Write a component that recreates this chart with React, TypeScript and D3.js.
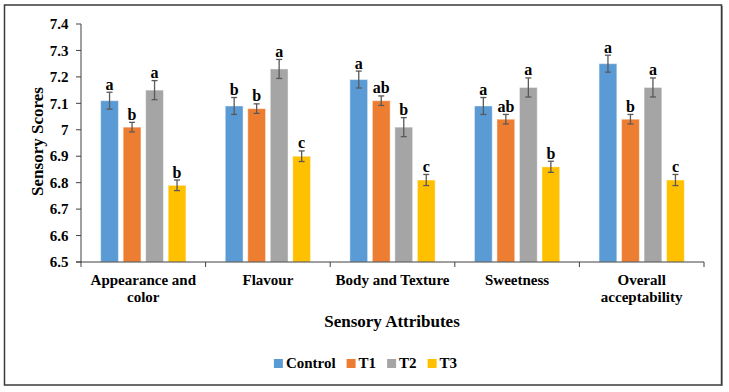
import React from 'react';
import * as d3 from 'd3';

const categories = ['Appearance and color', 'Flavour', 'Body and Texture', 'Sweetness', 'Overall acceptability'];
const seriesNames = ['Control', 'T1', 'T2', 'T3'];
const seriesColors = ['#5B9BD5', '#ED7D31', '#A5A5A5', '#FFC000'];

// values per series, one per category
const controlValues = [7.11, 7.09, 7.19, 7.09, 7.25];
const t1Values = [7.01, 7.08, 7.11, 7.04, 7.04];
const t2Values = [7.15, 7.23, 7.01, 7.16, 7.16];
const t3Values = [6.79, 6.9, 6.81, 6.86, 6.81];

const controlErr = [0.032, 0.032, 0.032, 0.032, 0.032];
const t1Err = [0.018, 0.018, 0.018, 0.018, 0.018];
const t2Err = [0.036, 0.036, 0.036, 0.036, 0.036];
const t3Err = [0.02, 0.02, 0.021, 0.021, 0.021];

const controlLetters = ['a', 'b', 'a', 'a', 'a'];
const t1Letters = ['b', 'b', 'ab', 'ab', 'b'];
const t2Letters = ['a', 'a', 'b', 'a', 'a'];
const t3Letters = ['b', 'c', 'c', 'b', 'c'];

const yTicks = [6.5, 6.6, 6.7, 6.8, 6.9, 7.0, 7.1, 7.2, 7.3, 7.4];

const allValues = [controlValues, t1Values, t2Values, t3Values];
const allErrs = [controlErr, t1Err, t2Err, t3Err];
const allLetters = [controlLetters, t1Letters, t2Letters, t3Letters];

const FONT = '"Liberation Serif", "Times New Roman", serif';
const txt = { fontFamily: FONT, fontWeight: 'bold' as const };
const MARGIN = { top: 24, right: 25, bottom: 130, left: 81 };

let ctx: CanvasRenderingContext2D | null = null;
const measure = (text: string, size: number) => {
  if (!ctx) ctx = document.createElement('canvas').getContext('2d');
  if (!ctx) return text.length * size * 0.5;
  ctx.font = `bold ${size}px ${FONT}`;
  return ctx.measureText(text).width;
};

const wrap = (text: string, maxW: number, size: number) => {
  const words = text.split(' ');
  const lines: string[] = [];
  let cur = '';
  words.forEach((w) => {
    const next = cur ? cur + ' ' + w : w;
    if (cur && measure(next, size) > maxW) {
      lines.push(cur);
      cur = w;
    } else cur = next;
  });
  if (cur) lines.push(cur);
  return lines;
};

const App = () => {
  const width = 729;
  const height = 392;
  const plotRight = 704;
  const plotBottom = 262;

  const xScale = d3.scaleBand().domain(categories).range([MARGIN.left, plotRight]).padding(0);
  const groupWidth = 90;
  const x1 = d3.scaleBand().domain(seriesNames).range([0, groupWidth]).paddingInner(0.21).paddingOuter(0.105);
  const yScale = d3.scaleLinear().domain([6.5, 7.4]).range([plotBottom, MARGIN.top]);

  const bars = categories.map((cat, ci) => {
    const gx = (xScale(cat) ?? 0) + (xScale.bandwidth() - groupWidth) / 2;
    return (
      <g key={cat}>
        {seriesNames.map((s, si) => {
          const v = allValues[si][ci];
          const e = allErrs[si][ci];
          const bx = gx + (x1(s) ?? 0);
          const cx = bx + x1.bandwidth() / 2;
          const yTop = yScale(v + e);
          const yBot = yScale(v - e);
          return (
            <g key={s}>
              <rect x={bx} y={yScale(v)} width={x1.bandwidth()} height={plotBottom - yScale(v)} fill={seriesColors[si]} stroke="#ffffff" strokeOpacity={0.45} strokeWidth={1} />
              <line x1={cx} x2={cx} y1={yTop} y2={yBot} stroke="#595959" strokeWidth={1.3} />
              <line x1={cx - 3} x2={cx + 3} y1={yTop} y2={yTop} stroke="#595959" strokeWidth={1.3} />
              <line x1={cx - 3} x2={cx + 3} y1={yBot} y2={yBot} stroke="#595959" strokeWidth={1.3} />
              <text x={cx} y={yTop - 2.5} textAnchor="middle" style={txt} fontSize={16} fill="#000">
                {allLetters[si][ci]}
              </text>
            </g>
          );
        })}
      </g>
    );
  });

  const yAxis = (
    <g>
      <line x1={MARGIN.left} x2={MARGIN.left} y1={MARGIN.top} y2={plotBottom} stroke="#404040" strokeWidth={1} />
      {yTicks.map((t) => (
        <g key={t}>
          <line x1={MARGIN.left - 5} x2={MARGIN.left} y1={yScale(t)} y2={yScale(t)} stroke="#404040" strokeWidth={1} />
          <text x={MARGIN.left - 12.5} y={yScale(t)} dy="0.35em" textAnchor="end" style={txt} fontSize={15} fill="#000">
            {t === 7 ? '7' : t.toFixed(1)}
          </text>
        </g>
      ))}
    </g>
  );

  const boundaries = [...categories.map((c) => xScale(c) ?? 0), plotRight];
  const xAxis = (
    <g>
      <line x1={MARGIN.left - 5} x2={plotRight} y1={plotBottom} y2={plotBottom} stroke="#404040" strokeWidth={1} />
      {boundaries.map((bx, i) => (
        <line key={i} x1={bx} x2={bx} y1={plotBottom} y2={plotBottom + 5} stroke="#404040" strokeWidth={1} />
      ))}
      {categories.map((c) => {
        const lines = wrap(c, 120, 15);
        const cx = (xScale(c) ?? 0) + xScale.bandwidth() / 2;
        return (
          <text key={c} x={cx} y={plotBottom + 23} textAnchor="middle" style={txt} fontSize={15} fill="#000">
            {lines.map((l, i) => (
              <tspan key={i} x={cx} dy={i === 0 ? 0 : 16.5}>{l}</tspan>
            ))}
          </text>
        );
      })}
    </g>
  );

  // legend laid out left to right, centred under the plot
  const legendSize = 15;
  const items = seriesNames.map((s) => measure(s, legendSize));
  const itemWidths = items.map((w) => 9 + 3 + w);
  const legendTotal = d3.sum(itemWidths) + 11 * (items.length - 1);
  let lx = 365.5 - legendTotal / 2;
  const legend = seriesNames.map((s, i) => {
    const x0 = lx;
    lx += itemWidths[i] + 11;
    return (
      <g key={s}>
        <rect x={x0} y={359} width={9} height={9} fill={seriesColors[i]} />
        <text x={x0 + 12} y={368} style={txt} fontSize={legendSize} fill="#000">
          {s}
        </text>
      </g>
    );
  });

  return (
    <svg width={width} height={height} style={{ position: 'absolute', left: 0, top: 0 }}>
      <rect x={0} y={0} width={width} height={height} fill="#fff" />
      <rect x={4.5} y={5} width={717} height={380} fill="#fff" stroke="#3a3a3a" strokeWidth={1.5} />
      <line x1={722.5} x2={722.5} y1={6} y2={386} stroke="#8a8a8a" strokeWidth={1} />
      {bars}
      {yAxis}
      {xAxis}
      <text transform="translate(37, 141.5) rotate(-90)" textAnchor="middle" dy="0.35em" style={txt} fontSize={17} fill="#000">
        Sensory Scores
      </text>
      <text x={392} y={327} textAnchor="middle" style={txt} fontSize={17} fill="#000">
        Sensory Attributes
      </text>
      {legend}
    </svg>
  );
};

export default App;
